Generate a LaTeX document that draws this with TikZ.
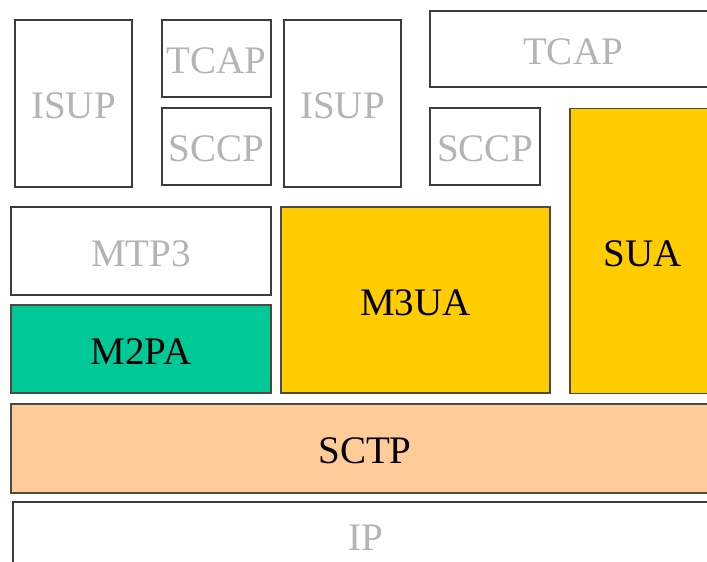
\documentclass[tikz,border=0pt]{standalone}
\usepackage{fontspec}
\setmainfont{Liberation Serif}
\definecolor{lyrgray}{RGB}{180,180,180}
\definecolor{lyrline}{RGB}{60,60,60}
\definecolor{uayellow}{RGB}{255,204,0}
\definecolor{pagreen}{RGB}{0,200,150}
\definecolor{sctppeach}{RGB}{255,204,153}
\tikzstyle{lyr}=[rectangle,draw=lyrline,line width=1.5pt,inner sep=0pt,text height=31pt,text depth=0pt,font=\fontsize{39}{44}\selectfont]
\tikzstyle{wlyr}=[lyr,fill=white,text=lyrgray]
\tikzstyle{clyr}=[lyr,draw=black!80!yellow,text=black]

\begin{document}
\begin{tikzpicture}[x=1pt,y=1pt]
	\useasboundingbox (0,0) rectangle (707,562);
	\clip (0,0) rectangle (707,562);
	% upper layers
	\node[wlyr,minimum width=117pt,minimum height=167pt] (isupa) at (73.5,458.5) {ISUP};
	\node[wlyr,minimum width=109pt,minimum height=77pt] (tcapa) at (216.5,503.5) {TCAP};
	\node[wlyr,minimum width=109pt,minimum height=77pt] (sccpa) at (216.5,415.5) {SCCP};
	\node[wlyr,minimum width=117pt,minimum height=167pt] (isupb) at (342.5,458.5) {ISUP};
	\node[wlyr,minimum width=286pt,minimum height=76pt] (tcapb) at (573,513) {TCAP};
	\node[wlyr,minimum width=110pt,minimum height=77pt] (sccpb) at (485,415.5) {SCCP};
	% adaptation layers
	\node[wlyr,minimum width=260pt,minimum height=88pt] (mtp) at (141,311) {MTP3};
	\node[clyr,fill=pagreen,minimum width=260pt,minimum height=88pt] (mpa) at (141,213) {M2PA};
	\node[clyr,fill=uayellow,minimum width=269pt,minimum height=186pt] (mua) at (415.5,262) {M3UA};
	\node[clyr,fill=uayellow,minimum width=146pt,minimum height=285pt,anchor=north] (sua) at (643,454) {};
	\node[font=\fontsize{39}{44}\selectfont] (sualbl) at (643,308) {SUA};
	% transport
	\node[clyr,fill=sctppeach,minimum width=708pt,minimum height=89pt] (sctp) at (365,113.5) {SCTP};
	\node[wlyr,minimum width=706pt,minimum height=66pt] (ip) at (366,27) {IP};
\end{tikzpicture}
\end{document}
